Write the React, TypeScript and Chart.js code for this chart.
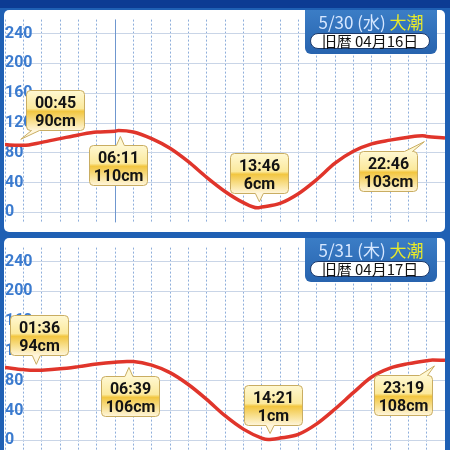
import React, { useEffect, useRef } from "react";
import { Chart, registerables } from "chart.js";

Chart.register(...registerables);

// Hourly tide level (cm) from 0:00 to 24:00
const HOURS = [0, 1, 2, 3, 4, 5, 6, 7, 8, 9, 10, 11, 12, 13, 14, 15, 16, 17, 18, 19, 20, 21, 22, 23, 24];
const LEVEL_0530 = [91, 90, 94, 99, 104, 108, 109, 108, 99, 86, 68, 47, 28, 13, 7, 12, 25, 44, 66, 82, 92, 97, 101, 102, 100];
const LEVEL_0531 = [98, 95, 94.3, 96, 99, 102.5, 105, 105.8, 101, 91, 75, 55, 33, 15, 3, 3, 8, 22, 42, 64, 85, 97, 103, 107, 107.5];

// High / low water: time and height (cm)
const TIMES_0530 = ["00:45", "06:11", "13:46", "22:46"];
const HEIGHTS_0530 = [90, 110, 6, 103];
const TIMES_0531 = ["01:36", "06:39", "14:21", "23:19"];
const HEIGHTS_0531 = [94, 106, 1, 108];

// Header texts
const DATE_0530 = "5/30 (水) ";
const DATE_0531 = "5/31 (木) ";
const TIDE_NAME_0530 = "大潮";
const TIDE_NAME_0531 = "大潮";
const LUNAR_0530 = "旧暦 04月16日";
const LUNAR_0531 = "旧暦 04月17日";

// Current-time marker (hour) on the first day
const NOW_HOUR_0530 = 6;

// Level axis labels (grid every 20 cm)
const Y_LABELS = [0, 40, 80, 120, 160, 200, 240];

// Horizontal shift of each callout box relative to its point (px)
const CALLOUT_SHIFT_0530 = [36, 0, 2, -34];
const CALLOUT_SHIFT_0531 = [5, 3, 5, -29];

const PANEL_W = 441;
const PANEL_H = 222;

type DayCfg = {
  levels: number[];
  times: string[];
  heights: number[];
  shift: number[];
  date: string;
  tideName: string;
  lunar: string;
  nowHour?: number;
};

function toHour(t: string) {
  const [h, m] = t.split(":").map(Number);
  return h + m / 60;
}

function buildPoints(cfg: DayCfg) {
  const pts = HOURS.map((h, i) => ({ x: h, y: cfg.levels[i] }));
  cfg.times.forEach((t, i) => pts.push({ x: toHour(t), y: cfg.heights[i] }));
  return pts.sort((a, b) => a.x - b.x);
}

function calloutPath(
  ctx: CanvasRenderingContext2D,
  l: number, t: number, w: number, h: number, r: number,
  x0: number, x1: number, tx: number, ty: number, up: boolean
) {
  const rg = l + w, b = t + h;
  ctx.beginPath();
  ctx.moveTo(l + r, t);
  if (up) { ctx.lineTo(x0, t); ctx.lineTo(tx, ty); ctx.lineTo(x1, t); }
  ctx.lineTo(rg - r, t);
  ctx.arcTo(rg, t, rg, t + r, r);
  ctx.lineTo(rg, b - r);
  ctx.arcTo(rg, b, rg - r, b, r);
  if (!up) { ctx.lineTo(x1, b); ctx.lineTo(tx, ty); ctx.lineTo(x0, b); }
  ctx.lineTo(l + r, b);
  ctx.arcTo(l, b, l, b - r, r);
  ctx.lineTo(l, t + r);
  ctx.arcTo(l, t, l + r, t, r);
  ctx.closePath();
}

function overlayPlugin(cfg: DayCfg) {
  return {
    id: "tideOverlay",
    beforeDatasetsDraw(chart: any) {
      if (cfg.nowHour === undefined) return;
      const { ctx, chartArea, scales } = chart;
      ctx.save();
      ctx.strokeStyle = "#6f97cf";
      ctx.lineWidth = 1;
      const px = Math.round(scales.x.getPixelForValue(cfg.nowHour)) + 0.5;
      ctx.beginPath();
      ctx.moveTo(px, chartArea.top);
      ctx.lineTo(px, chartArea.bottom);
      ctx.stroke();
      ctx.restore();
    },
    afterDatasetsDraw(chart: any) {
      const { ctx, scales } = chart;
      const w = 58, h = 40, r = 4;
      ctx.save();
      cfg.times.forEach((t, i) => {
        const v = cfg.heights[i];
        const px = scales.x.getPixelForValue(toHour(t));
        const py = scales.y.getPixelForValue(v);
        const prev = cfg.heights[i - 1];
        const next = cfg.heights[i + 1];
        const isHigh = (prev === undefined || v > prev) && (next === undefined || v > next);
        const tipX = px + 2;
        const tipY = isHigh ? py + 6 : py - 6;
        const left = Math.round(px + cfg.shift[i] - w / 2) + 0.5;
        const top = Math.round(isHigh ? tipY + 9 : tipY - 9 - h) + 0.5;
        const x0 = Math.min(Math.max(tipX - 4, left + r + 1), left + w - r - 9);
        const x1 = x0 + 8;
        calloutPath(ctx, left, top, w, h, r, x0, x1, tipX, tipY, isHigh);
        const g = ctx.createLinearGradient(0, top, 0, top + h);
        g.addColorStop(0, "#fff8d2");
        g.addColorStop(0.45, "#fbe99c");
        g.addColorStop(0.52, "#f2c640");
        g.addColorStop(0.8, "#f9e39a");
        g.addColorStop(1, "#fff6dc");
        ctx.fillStyle = g;
        ctx.fill();
        ctx.strokeStyle = "#c9ad62";
        ctx.lineWidth = 1;
        ctx.stroke();
        ctx.fillStyle = "#141414";
        ctx.font = "bold 16px Roboto";
        ctx.textAlign = "center";
        ctx.textBaseline = "middle";
        const cx = left + w / 2;
        ctx.fillText(t, cx, top + 13);
        ctx.fillText(`${v}cm`, cx, top + 31);
      });
      ctx.restore();
    },
    afterDraw(chart: any) {
      const { ctx } = chart;
      const bx0 = 301, bx1 = 433, by1 = 44, r = 6;
      ctx.save();
      ctx.beginPath();
      ctx.moveTo(bx0, 0);
      ctx.lineTo(bx1, 0);
      ctx.lineTo(bx1, by1 - r);
      ctx.arcTo(bx1, by1, bx1 - r, by1, r);
      ctx.lineTo(bx0 + r, by1);
      ctx.arcTo(bx0, by1, bx0, by1 - r, r);
      ctx.closePath();
      const g = ctx.createLinearGradient(0, 0, 0, by1);
      g.addColorStop(0, "#3b7dc6");
      g.addColorStop(1, "#2763ae");
      ctx.fillStyle = g;
      ctx.fill();

      const cx = (bx0 + bx1) / 2;
      ctx.font = '17px "Noto Sans CJK JP"';
      ctx.textBaseline = "middle";
      ctx.textAlign = "left";
      const wDate = ctx.measureText(cfg.date).width;
      const wName = ctx.measureText(cfg.tideName).width;
      const tx = cx - (wDate + wName) / 2;
      ctx.fillStyle = "#d6e7ff";
      ctx.fillText(cfg.date, tx, 13);
      ctx.fillStyle = "#e8ea2a";
      ctx.fillText(cfg.tideName, tx + wDate, 13);

      ctx.beginPath();
      ctx.roundRect(306.5, 23.5, 119, 15, 7.5);
      ctx.fillStyle = "#ffffff";
      ctx.fill();
      ctx.strokeStyle = "#1c3a6c";
      ctx.lineWidth = 1;
      ctx.stroke();
      ctx.font = '15px "Noto Sans CJK JP"';
      ctx.textAlign = "center";
      ctx.fillStyle = "#111111";
      ctx.fillText(cfg.lunar, 366, 31);
      ctx.restore();
    },
  };
}

function makeChart(canvas: HTMLCanvasElement, cfg: DayCfg) {
  return new Chart(canvas, {
    type: "line",
    data: {
      datasets: [
        {
          data: buildPoints(cfg),
          borderColor: "#e0352b",
          borderWidth: 3.5,
          pointRadius: 0,
          cubicInterpolationMode: "monotone",
          fill: false,
        },
      ],
    },
    options: {
      animation: false,
      responsive: false,
      events: [],
      layout: { padding: { left: 1, right: 0, top: 0, bottom: 0 } },
      plugins: { legend: { display: false }, tooltip: { enabled: false } },
      scales: {
        x: {
          type: "linear",
          min: 0,
          max: 24,
          ticks: { display: false, stepSize: 1 },
          grid: { color: "#8eaedb", lineWidth: 1, drawTicks: false },
          border: { display: false, dash: [2, 2] },
        },
        y: {
          type: "linear",
          min: -13.6,
          max: 259,
          ticks: {
            stepSize: 20,
            includeBounds: false,
            mirror: true,
            padding: 0,
            color: "#3b7bcf",
            font: { family: "Roboto", size: 16, weight: "bold" },
            callback: (val: any) => (Y_LABELS.includes(Number(val)) ? String(val) : ""),
          },
          grid: { color: "#c9d5e7", lineWidth: 1, drawTicks: false },
          border: { display: false },
        },
      },
    },
    plugins: [overlayPlugin(cfg)],
  } as any);
}

export default function App() {
  const topRef = useRef<HTMLCanvasElement>(null);
  const botRef = useRef<HTMLCanvasElement>(null);

  useEffect(() => {
    const a = makeChart(topRef.current!, {
      levels: LEVEL_0530,
      times: TIMES_0530,
      heights: HEIGHTS_0530,
      shift: CALLOUT_SHIFT_0530,
      date: DATE_0530,
      tideName: TIDE_NAME_0530,
      lunar: LUNAR_0530,
      nowHour: NOW_HOUR_0530,
    });
    const b = makeChart(botRef.current!, {
      levels: LEVEL_0531,
      times: TIMES_0531,
      heights: HEIGHTS_0531,
      shift: CALLOUT_SHIFT_0531,
      date: DATE_0531,
      tideName: TIDE_NAME_0531,
      lunar: LUNAR_0531,
    });
    return () => {
      a.destroy();
      b.destroy();
    };
  }, []);

  const panel: React.CSSProperties = {
    position: "absolute",
    left: 4,
    width: PANEL_W,
    height: PANEL_H,
    background: "#ffffff",
    borderRadius: 5,
    overflow: "hidden",
  };

  return (
    <div
      style={{
        position: "fixed",
        left: 0,
        top: 0,
        width: 450,
        height: 450,
        overflow: "hidden",
        background: "#1f60b4",
      }}
    >
      <div style={{ position: "absolute", left: 0, top: 0, width: 450, height: 8, background: "#0c3b93" }} />
      <div style={{ ...panel, top: 10 }}>
        <canvas ref={topRef} width={PANEL_W} height={PANEL_H} style={{ display: "block" }} />
      </div>
      <div style={{ ...panel, top: 238 }}>
        <canvas ref={botRef} width={PANEL_W} height={PANEL_H} style={{ display: "block" }} />
      </div>
    </div>
  );
}
